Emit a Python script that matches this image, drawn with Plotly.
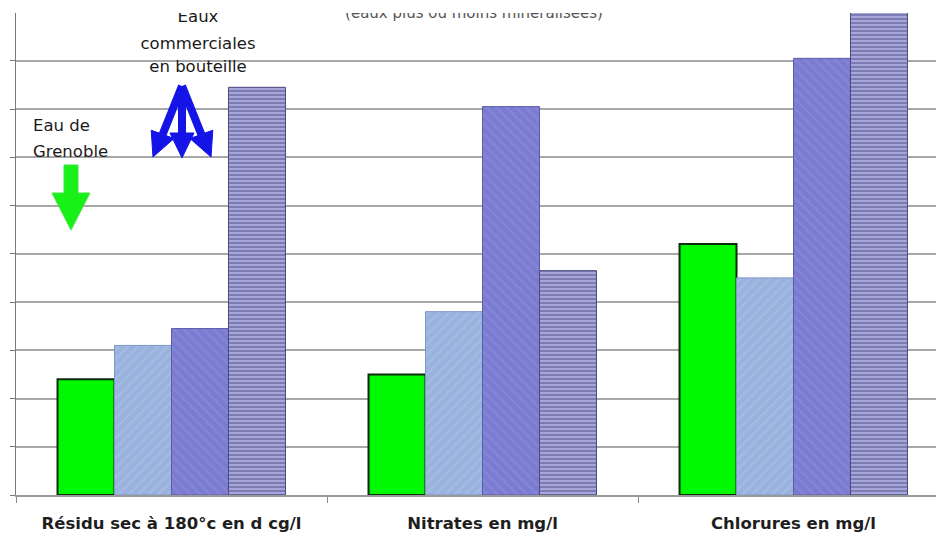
import plotly.graph_objects as go

# Water composition compared across four waters
categories = ["Résidu sec à 180°c en d cg/l", "Nitrates en mg/l", "Chlorures en mg/l"]
grenoble = [2.4, 2.5, 5.2]
bouteille_a = [3.1, 3.8, 4.5]
bouteille_b = [3.45, 8.05, 9.05]
bouteille_c = [8.45, 4.65, 10.8]

W, H = 936, 537
ML, MR, MT, MB = 16, 0, 13, 42
PW, PH = W - ML - MR, H - MT - MB
Y_MAX = 9.99
PX_PER_UNIT = PH / Y_MAX


def paper(px, py):
    """Convert page pixel position to paper coordinates."""
    return (px - ML) / PW, (H - MB - py) / PH


def overlay_xy(px, py):
    """Page pixel position expressed on the overlay x axis and the value y axis."""
    return (px - ML) / PW, (H - MB - py) / PX_PER_UNIT


def path_from(points):
    pts = [paper(x, y) for x, y in points]
    return "M " + " L ".join(f"{x:.5f},{y:.5f}" for x, y in pts) + " Z"


fig = go.Figure()

fig.add_trace(go.Bar(
    x=categories, y=grenoble, name="Eau de Grenoble",
    marker=dict(color="#00F800", line=dict(color="#0A2A0A", width=2)),
))
fig.add_trace(go.Bar(
    x=categories, y=bouteille_a, name="Eau A",
    marker=dict(color="#9AB2DE", line=dict(color="#7E95C6", width=1),
                pattern=dict(shape="/", fgcolor="#B6C8EA", size=7, solidity=0.25,
                             fillmode="overlay")),
))
fig.add_trace(go.Bar(
    x=categories, y=bouteille_b, name="Eau B",
    marker=dict(color="#7B7BD2", line=dict(color="#5C5CA8", width=1),
                pattern=dict(shape="\\", fgcolor="#9494E0", size=7, solidity=0.25,
                             fillmode="overlay")),
))
fig.add_trace(go.Bar(
    x=categories, y=bouteille_c, name="Eau C",
    marker=dict(color="#A6A6DA", line=dict(color="#4A4A80", width=1),
                pattern=dict(shape="-", fgcolor="#52528C", size=4, solidity=0.5,
                             fillmode="overlay")),
))

# Explanatory labels, clipped to the plotting area like the bars
label_lines = [
    ("Eaux", 198, 18, "center"),
    ("commerciales", 198, 45, "center"),
    ("en bouteille", 198, 68, "center"),
    ("Eau de", 33, 127, "right"),
    ("Grenoble", 33, 153, "right"),
    ("(eaux plus ou moins minéralisées)", 474, 14, "center"),
]
for text, px, py, pos in label_lines:
    lx, ly = overlay_xy(px, py)
    is_top = text.startswith("(")
    fig.add_trace(go.Scatter(
        x=[lx], y=[ly], xaxis="x2", yaxis="y", mode="text", text=[text],
        textposition="middle " + pos, cliponaxis=True, hoverinfo="skip",
        textfont=dict(family="DejaVu Sans", size=15 if is_top else 16.5,
                      color="#555555" if is_top else "#1A1A1A"),
    ))

# Green arrow under "Eau de Grenoble"
green_arrow = [(64, 165), (78, 165), (78, 193), (90, 193), (71, 230), (52, 193), (64, 193)]

# Blue three-headed arrow under "Eaux commerciales en bouteille"
apex = (182, 86)
heads = [
    ((153, 157), (174.0, 138.5), (151.2, 130.2), (162.6, 134.4)),
    ((182, 158), (194.0, 133.0), (170.0, 133.0), (182.0, 133.0)),
    ((211, 157), (212.8, 130.2), (190.0, 138.5), (201.4, 134.4)),
]

shapes = [dict(type="path", xref="paper", yref="paper", path=path_from(green_arrow),
               fillcolor="#18F018", line=dict(color="#40E840", width=1), layer="above")]
for tip, b1, b2, base in heads:
    x0, y0 = paper(*apex)
    x1, y1 = paper(*base)
    shapes.append(dict(type="line", xref="paper", yref="paper", x0=x0, y0=y0, x1=x1, y1=y1,
                       line=dict(color="#1414E6", width=8), layer="above"))
    shapes.append(dict(type="path", xref="paper", yref="paper", path=path_from([tip, b1, b2]),
                       fillcolor="#1414E6", line=dict(color="#1414E6", width=1), layer="above"))

x_right = -0.5 + PW / 311.0

fig.update_layout(
    width=W, height=H,
    margin=dict(l=ML, r=MR, t=MT, b=MB),
    paper_bgcolor="white", plot_bgcolor="white",
    barmode="group", bargap=0.267, bargroupgap=0,
    showlegend=False,
    shapes=shapes,
    xaxis=dict(
        type="category", range=[-0.5, x_right], tickson="boundaries",
        ticks="outside", ticklen=6, tickcolor="#888888", tickwidth=1,
        showline=True, linecolor="#9A9A9A", linewidth=2,
        showgrid=False, ticklabelstandoff=12,
        tickfont=dict(family="DejaVu Sans", size=16.5, color="#1E1E1E", weight="bold"),
    ),
    xaxis2=dict(overlaying="x", range=[0, 1], visible=False, fixedrange=True),
    yaxis=dict(
        range=[0, Y_MAX], dtick=1, tick0=0,
        showgrid=True, gridcolor="#A8A8A8", gridwidth=2,
        showline=True, linecolor="#7A7A7A", linewidth=1,
        ticks="outside", ticklen=5, tickcolor="#7A7A7A",
        showticklabels=False, zeroline=False,
    ),
)

fig.write_html("out.html")
